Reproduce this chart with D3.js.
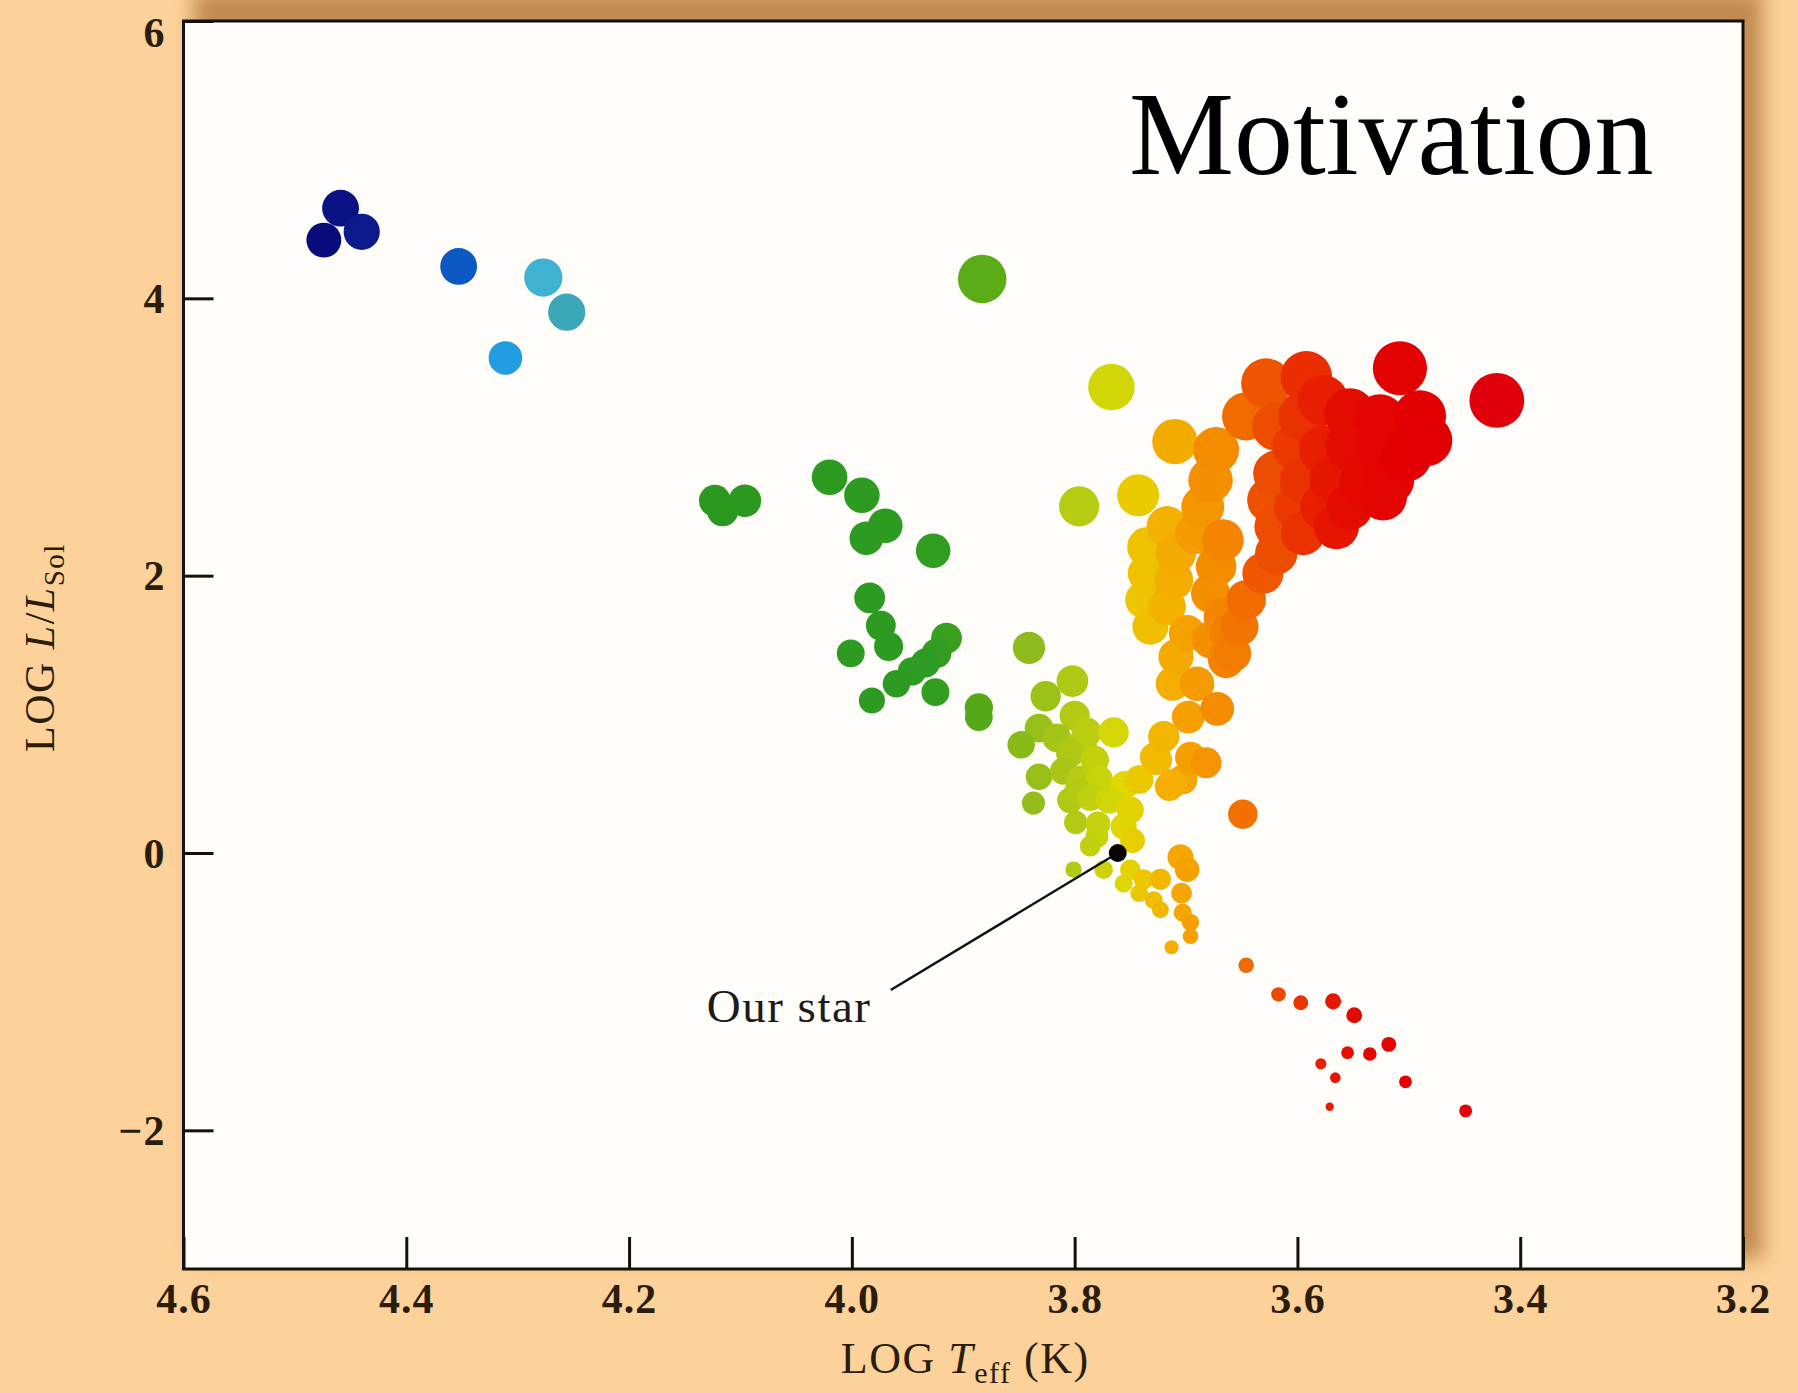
<!DOCTYPE html>
<html>
<head>
<meta charset="utf-8">
<script src="https://cdn.jsdelivr.net/npm/d3@7"></script>
<style>
  html, body { margin: 0; padding: 0; background: #fdd29a; }
  svg { display: block; }
</style>
</head>
<body>
<svg id="chart" width="1798" height="1393"></svg>
<script>
// Hertzsprung–Russell diagram: each star is [log Teff (K), log L/Lsol]

// Hot, luminous blue stars
const hotStars = [
  [4.474, 4.42], [4.459, 4.65], [4.440, 4.48], [4.353, 4.23],
  [4.277, 4.15], [4.256, 3.90], [4.311, 3.57]
];

// Blue-white / white stars (green in this colouring)
const whiteStars = [
  [3.883, 4.14],
  [4.123, 2.54], [4.116, 2.47], [4.096, 2.54],
  [4.020, 2.71], [3.991, 2.58], [3.970, 2.36], [3.987, 2.27], [3.927, 2.18],
  [3.984, 1.84], [3.974, 1.64], [3.967, 1.49], [4.001, 1.44],
  [3.915, 1.55], [3.924, 1.44], [3.934, 1.37], [3.946, 1.31], [3.960, 1.22],
  [3.925, 1.16], [3.982, 1.10], [3.886, 1.05], [3.886, 0.98]
];

// Sun-like main-sequence stars
const mainSequence = [
  [3.841, 1.48], [3.802, 1.24], [3.826, 1.13], [3.800, 0.99], [3.832, 0.90],
  [3.848, 0.78], [3.816, 0.83], [3.789, 0.87], [3.793, 0.79], [3.765, 0.87],
  [3.804, 0.72], [3.782, 0.67], [3.832, 0.55], [3.810, 0.59], [3.795, 0.53],
  [3.778, 0.53], [3.755, 0.49], [3.742, 0.53], [3.726, 0.67], [3.715, 0.48],
  [3.703, 0.53], [3.696, 0.69], [3.712, 0.50], [3.837, 0.36], [3.804, 0.38],
  [3.797, 0.45], [3.786, 0.40], [3.769, 0.38], [3.750, 0.31], [3.799, 0.22],
  [3.779, 0.21], [3.756, 0.19], [3.748, 0.09], [3.780, 0.12], [3.786, 0.05],
  [3.801, -0.12], [3.774, -0.12], [3.750, -0.12], [3.756, -0.22], [3.738, -0.19],
  [3.723, -0.19], [3.742, -0.29], [3.729, -0.34], [3.723, -0.41], [3.705, -0.03],
  [3.699, -0.12], [3.704, -0.29], [3.703, -0.43], [3.696, -0.50], [3.696, -0.60],
  [3.713, -0.68], [3.646, -0.81]
];

// Subgiants, giants and supergiants
const giantBranch = [
  [3.767, 3.36], [3.743, 2.58], [3.796, 2.50],
  [3.710, 2.967], [3.717, 2.353], [3.735, 2.207], [3.709, 2.161], [3.735, 2.017],
  [3.711, 1.967], [3.738, 1.826], [3.717, 1.777], [3.732, 1.632], [3.699, 1.584],
  [3.709, 1.416], [3.712, 1.22], [3.690, 1.22], [3.698, 0.98], [3.720, 0.84],
  [3.728, 0.69],
  [3.673, 2.906], [3.678, 2.689], [3.685, 2.496], [3.691, 2.306], [3.667, 2.256],
  [3.673, 2.066], [3.678, 1.872], [3.667, 1.702], [3.678, 1.537], [3.664, 1.392],
  [3.662, 1.59], [3.672, 1.04], [3.682, 0.65], [3.649, 0.28],
  [3.628, 3.386], [3.592, 3.434], [3.577, 3.264], [3.508, 3.496], [3.421, 3.264],
  [3.646, 3.149], [3.619, 3.074], [3.595, 3.149], [3.553, 3.169], [3.526, 3.124],
  [3.490, 3.149], [3.484, 2.975], [3.502, 2.860], [3.523, 2.909], [3.553, 2.930],
  [3.577, 2.909], [3.601, 2.930], [3.619, 2.736], [3.595, 2.689], [3.568, 2.689],
  [3.541, 2.665], [3.517, 2.689], [3.523, 2.570], [3.553, 2.496], [3.577, 2.496],
  [3.601, 2.496], [3.625, 2.545], [3.619, 2.353], [3.595, 2.306], [3.565, 2.353],
  [3.619, 2.161], [3.631, 2.017], [3.646, 1.826], [3.652, 1.632], [3.658, 1.438]
];

// Cool red dwarfs
const redDwarfs = [
  [3.617, -1.02], [3.597, -1.08], [3.568, -1.07], [3.549, -1.17], [3.518, -1.38],
  [3.535, -1.45], [3.555, -1.44], [3.579, -1.52], [3.566, -1.62], [3.503, -1.65],
  [3.571, -1.83], [3.449, -1.86]
];

// The Sun
const ourStar = [3.7613, 0];

// Axis ticks
const logTeffTicks = [4.6, 4.4, 4.2, 4.0, 3.8, 3.6, 3.4, 3.2];
const logLumTicks = [6, 4, 2, 0, -2];

// Colour ramp along temperature (blue hot → red cool)
const rampTeff = [4.48, 4.44, 4.36, 4.32, 4.28, 4.255, 4.14, 3.93, 3.89, 3.875, 3.84,
                  3.80, 3.77, 3.755, 3.735, 3.715, 3.70, 3.675, 3.655, 3.635, 3.61,
                  3.58, 3.55, 3.50, 3.40];
const rampColor = ["#08087a", "#0c1a8c", "#0a4cbc", "#1a96e4", "#40b4d6", "#3ca8b6",
                   "#2a981e", "#2e9c22", "#4ca41a", "#6cb814", "#90bc1c", "#b2ca14",
                   "#cfd608", "#e0d600", "#efc200", "#f4b000", "#f5a200", "#f48e00",
                   "#f27800", "#f05c00", "#ec4400", "#e82000", "#e40a00", "#e20002",
                   "#e0000e"];

const W = 1798, H = 1393;
const plot = { left: 183.5, right: 1743, top: 21, bottom: 1269 };
const serif = "'Liberation Serif', 'Times New Roman', serif";

const x = d3.scaleLinear().domain([4.6, 3.2]).range([plot.left, plot.right]);
const y = d3.scaleLinear().domain([-3, 6]).range([plot.bottom, plot.top]);
const colour = d3.scaleLinear().domain(rampTeff).range(rampColor).clamp(true);

// Marker size follows the stellar radius: log R = ½ log L − 2 (log T − log T_sun)
const logRadius = d => 0.5 * d[1] - 2 * (d[0] - ourStar[0]);
const radius = d3.scaleLinear()
  .domain([-0.6, -0.15, 0.1, 2.4])
  .range([3.5, 8, 13, 28])
  .clamp(true);

const svg = d3.select("#chart");
const defs = svg.append("defs");
defs.append("filter").attr("id", "soft")
  .attr("x", "-10%").attr("y", "-10%").attr("width", "120%").attr("height", "120%")
  .append("feGaussianBlur").attr("stdDeviation", 10);

// Shadow behind the plot panel
svg.append("rect")
  .attr("x", plot.left + 10).attr("y", plot.top - 30)
  .attr("width", plot.right - plot.left + 10).attr("height", plot.bottom - plot.top + 20)
  .attr("fill", "#a86c30").attr("opacity", 0.7)
  .attr("filter", "url(#soft)");

// Plot panel
svg.append("rect")
  .attr("x", plot.left).attr("y", plot.top)
  .attr("width", plot.right - plot.left).attr("height", plot.bottom - plot.top)
  .attr("fill", "#fefdfa");

// Title
svg.append("text")
  .attr("x", 1129).attr("y", 174)
  .attr("font-family", serif).attr("font-size", 118)
  .attr("fill", "#000")
  .text("Motivation");

// Stars
const groups = [hotStars, whiteStars, mainSequence,
                giantBranch.slice().sort((a, b) => b[0] - a[0]), redDwarfs];
const gStars = svg.append("g");
groups.forEach(list => {
  gStars.append("g").selectAll("circle").data(list).join("circle")
    .attr("cx", d => x(d[0]))
    .attr("cy", d => y(d[1]))
    .attr("r", d => radius(logRadius(d)))
    .attr("fill", d => colour(d[0]));
});

// The Sun and its label
const sunX = x(ourStar[0]), sunY = y(ourStar[1]);
svg.append("line")
  .attr("x1", sunX - 227).attr("y1", sunY + 137)
  .attr("x2", sunX).attr("y2", sunY)
  .attr("stroke", "#111").attr("stroke-width", 2.5);
svg.append("circle")
  .attr("cx", sunX).attr("cy", sunY).attr("r", 9)
  .attr("fill", "#0a0505");
svg.append("text")
  .attr("x", sunX - 411).attr("y", sunY + 169)
  .attr("font-family", serif).attr("font-size", 47)
  .attr("letter-spacing", 1.5)
  .attr("fill", "#1e1a16")
  .text("Our star");

// Axes
const fmt = v => v < 0 ? "\u2212" + Math.abs(v) : String(v);
const xAxis = svg.append("g")
  .attr("transform", `translate(0,${plot.bottom})`)
  .call(d3.axisBottom(x).tickValues(logTeffTicks).tickSize(-32).tickPadding(14)
        .tickFormat(d3.format(".1f")));
const yAxis = svg.append("g")
  .attr("transform", `translate(${plot.left},0)`)
  .call(d3.axisLeft(y).tickValues(logLumTicks).tickSize(-30).tickPadding(18)
        .tickFormat(fmt));
[xAxis, yAxis].forEach(g => {
  g.select(".domain").remove();
  g.selectAll("line").attr("stroke", "#151008").attr("stroke-width", 3);
  g.selectAll("text")
    .attr("font-family", serif).attr("font-size", 42).attr("font-weight", "bold")
    .attr("letter-spacing", 1).attr("fill", "#2b1d0e");
});
yAxis.selectAll(".tick text").attr("dy", d => d === 6 ? "0.6em" : "0.34em");

// Frame
svg.append("rect")
  .attr("x", plot.left).attr("y", plot.top)
  .attr("width", plot.right - plot.left).attr("height", plot.bottom - plot.top)
  .attr("fill", "none").attr("stroke", "#151008").attr("stroke-width", 3);

// Axis titles
const xt = svg.append("text")
  .attr("x", (plot.left + plot.right) / 2 + 2).attr("y", 1373)
  .attr("text-anchor", "middle")
  .attr("font-family", serif).attr("font-size", 44).attr("letter-spacing", 1.5)
  .attr("fill", "#2b1d0e");
xt.append("tspan").text("LOG ");
xt.append("tspan").attr("font-style", "italic").text("T");
xt.append("tspan").attr("font-size", 30).attr("dy", 10).text("eff");
xt.append("tspan").attr("dy", -10).text(" (K)");

const yt = svg.append("text")
  .attr("transform", `translate(54,752) rotate(-90)`)
  .attr("font-family", serif).attr("font-size", 42).attr("letter-spacing", 1.5)
  .attr("fill", "#2b1d0e");
yt.append("tspan").text("LOG ");
yt.append("tspan").attr("font-style", "italic").text("L");
yt.append("tspan").text("/");
yt.append("tspan").attr("font-style", "italic").text("L");
yt.append("tspan").attr("font-size", 29).attr("dy", 10).text("Sol");
</script>
</body>
</html>
